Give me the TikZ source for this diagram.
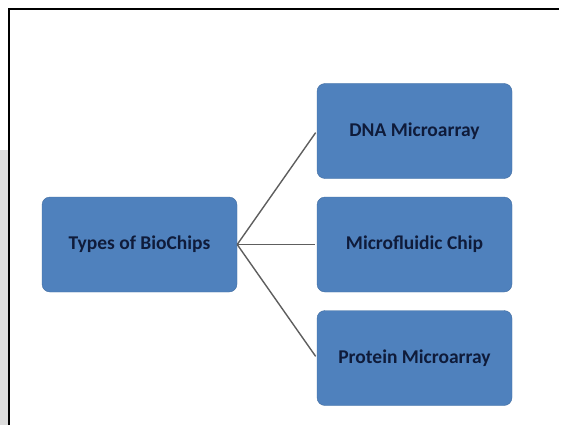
\documentclass[tikz,border=0pt]{standalone}
\usepackage{fontspec}
\setmainfont{Carlito}
\usepackage{xcolor}
\usetikzlibrary{positioning}

\definecolor{chipblue}{HTML}{4F81BD}
\definecolor{chiptext}{HTML}{0F1B3A}
\definecolor{linkgray}{HTML}{5E5E5E}
\definecolor{stripgray}{HTML}{DCDCDC}

\begin{document}
\begin{tikzpicture}[x=1pt, y=-1pt, shorten >=2pt, node distance=113.5pt, on grid,
    chip/.style={fill=chipblue, draw=chipblue!85!black, line width=0.4pt, rounded corners=8pt,
        minimum width=195pt, minimum height=95pt, inner sep=0pt,
        text=chiptext, font=\fontsize{19.5}{22}\selectfont\bfseries}]
        \useasboundingbox (0,0) rectangle (561,425);
        \fill[stripgray] (0,150) rectangle (8,425);
        \draw[line width=2pt] (9,425) -- (9,9) -- (561,9);

        \node[chip] (types) at (139.5,244.5) {Types of BioChips};
        \node[chip] (micro) [right=275pt of types] {Microfluidic Chip};
        \node[chip] (dna) [above=of micro] {DNA Microarray};
        \node[chip] (protein) [below=of micro] {Protein Microarray};

        \path[draw=linkgray, line width=1.4pt]
        (types.east) edge (dna.west)
                     edge (micro.west)
                     edge (protein.west);
    \end{tikzpicture}
\end{document}
